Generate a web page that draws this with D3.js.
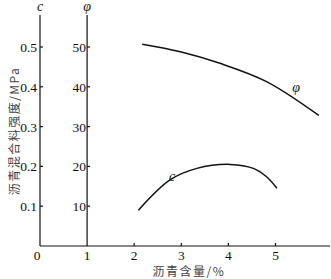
<!DOCTYPE html>
<html lang="zh">
<head>
<meta charset="UTF-8">
<title>沥青含量与强度</title>
<style>
    body { margin: 0; padding: 0; background: #fff; }
    svg { display: block; }
    .num { font-family: "Liberation Serif", "DejaVu Serif", serif; font-size: 13.5px; fill: #111; }
    .cjk { font-family: "Noto Sans CJK SC", sans-serif; font-size: 12px; fill: #444; letter-spacing: 1.5px; }
    .sym { font-family: "Liberation Serif", serif; font-style: italic; font-size: 14px; fill: #111; }
</style>
<script src="https://d3js.org/d3.v7.min.js"></script>
</head>
<body>
<script>
    const width = 331;
    const height = 279;

    // 数据
    const xTicks = [2, 3, 4, 5];
    const cTicks = [0.1, 0.2, 0.3, 0.4, 0.5];
    const phiTicks = [10, 20, 30, 40, 50];
    const phiX = [2.17, 2.98, 3.82, 4.81, 5.92];
    const phiY = [50.7, 48.8, 45.9, 41.3, 32.8];
    const cX = [2.09, 2.76, 3.33, 4.04, 4.53, 4.81, 5.03];
    const cY = [0.090, 0.166, 0.195, 0.205, 0.195, 0.174, 0.145];

    const x = d3.scaleLinear().domain([0, 5]).range([40, 275.5]);
    const yC = d3.scaleLinear().domain([0, 0.5]).range([246, 47]);
    const yPhi = d3.scaleLinear().domain([0, 50]).range([246, 47]);

    const svg = d3.select("body").append("svg")
        .attr("width", width)
        .attr("height", height);

    const x0 = x(0), x1 = x(1), y0 = yC(0);

    // 坐标轴
    const axes = svg.append("g").attr("stroke", "#111").attr("stroke-width", 1.2).attr("fill", "none");
    axes.append("line").attr("x1", x0).attr("x2", x0).attr("y1", y0).attr("y2", 15);
    axes.append("line").attr("x1", x1).attr("x2", x1).attr("y1", y0).attr("y2", 15);
    axes.append("line").attr("x1", x0).attr("x2", 330).attr("y1", y0).attr("y2", y0);

    // 刻度
    axes.selectAll(".ct").data(cTicks).enter().append("line")
        .attr("x1", x0).attr("x2", x0 + 3)
        .attr("y1", d => yC(d)).attr("y2", d => yC(d));
    axes.selectAll(".pt").data(phiTicks).enter().append("line")
        .attr("x1", x1).attr("x2", x1 + 3)
        .attr("y1", d => yPhi(d)).attr("y2", d => yPhi(d));
    axes.selectAll(".xt").data(xTicks).enter().append("line")
        .attr("x1", d => x(d)).attr("x2", d => x(d))
        .attr("y1", y0).attr("y2", y0 - 3);

    svg.selectAll(".cl").data(cTicks).enter().append("text")
        .attr("class", "num")
        .attr("x", x0 - 3).attr("y", d => yC(d) + 5)
        .attr("text-anchor", "end")
        .text(d => d.toFixed(1));
    svg.selectAll(".pl").data(phiTicks).enter().append("text")
        .attr("class", "num")
        .attr("x", x1 - 1).attr("y", d => yPhi(d) + 5)
        .attr("text-anchor", "end")
        .text(d => d);
    svg.selectAll(".xl").data([0, 1].concat(xTicks)).enter().append("text")
        .attr("class", "num")
        .attr("x", d => d === 0 ? x0 - 3 : x(d))
        .attr("y", 260)
        .attr("text-anchor", "middle")
        .text(d => d);

    // 轴名
    svg.append("text").attr("class", "sym").attr("x", x0).attr("y", 11).attr("text-anchor", "middle").text("c");
    svg.append("text").attr("class", "sym").attr("x", x1).attr("y", 11).attr("text-anchor", "middle").text("φ");
    svg.append("text").attr("class", "cjk")
        .attr("transform", "translate(19,131) rotate(-90)")
        .attr("text-anchor", "middle")
        .text("沥青混合料强度/MPa");
    svg.append("text").attr("class", "cjk")
        .attr("x", 189).attr("y", 276)
        .attr("text-anchor", "middle")
        .text("沥青含量/%");

    // 曲线
    const phiLine = d3.line().x(d => x(d[0])).y(d => yPhi(d[1])).curve(d3.curveCatmullRom);
    const cLine = d3.line().x(d => x(d[0])).y(d => yC(d[1])).curve(d3.curveCatmullRom);

    svg.append("path")
        .attr("d", phiLine(d3.zip(phiX, phiY)))
        .attr("fill", "none").attr("stroke", "#111").attr("stroke-width", 1.5);
    svg.append("path")
        .attr("d", cLine(d3.zip(cX, cY)))
        .attr("fill", "none").attr("stroke", "#111").attr("stroke-width", 1.5);

    svg.append("text").attr("class", "sym").attr("x", 296).attr("y", 92).attr("text-anchor", "middle").text("φ");
    svg.append("text").attr("class", "sym").attr("x", 172).attr("y", 181).attr("text-anchor", "middle").text("c");
</script>
</body>
</html>
